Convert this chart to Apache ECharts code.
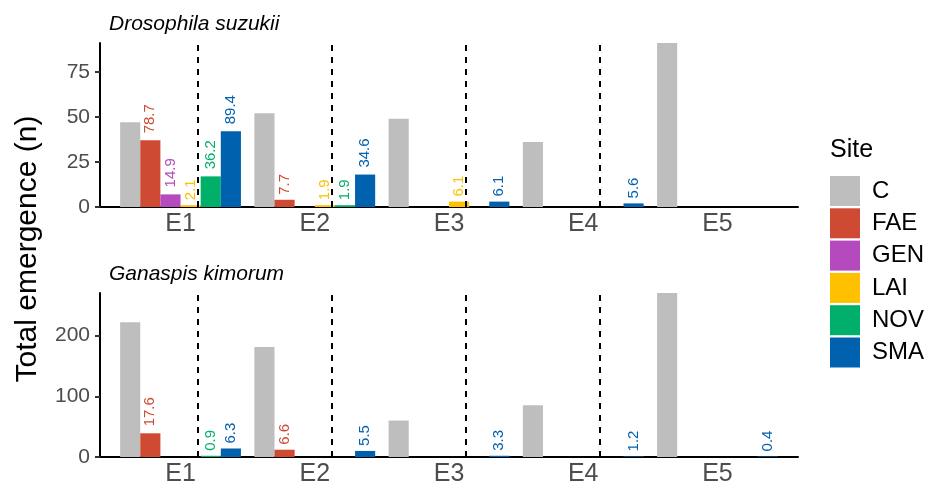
<!DOCTYPE html>
<html>
<head>
<meta charset="utf-8">
<script src="https://cdn.jsdelivr.net/npm/echarts@6/dist/echarts.min.js"></script>
<style>
  html, body { margin: 0; padding: 0; background: #fff; }
  #chart { width: 934px; height: 491px; }
</style>
</head>
<body>
<div id="chart"></div>
<script>
// Emergence sites and experiments
const categories = ['E1', 'E2', 'E3', 'E4', 'E5'];
const sites = ['C', 'FAE', 'GEN', 'LAI', 'NOV', 'SMA'];
const panelTitles = ['Drosophila suzukii', 'Ganaspis kimorum'];

// Drosophila suzukii: total emergence per site
const suzukiiC   = [47, 52, 49, 36, 91];
const suzukiiFAE = [37, 4, 0, 0, 0];
const suzukiiGEN = [7, 0, 0, 0, 0];
const suzukiiLAI = [1, 1, 3, 0, 0];
const suzukiiNOV = [17, 1, 0, 0, 0];
const suzukiiSMA = [42, 18, 3, 2, 0];

// Drosophila suzukii: percentage labels (relative to C)
const suzukiiPctFAE = [78.7, 7.7, null, null, null];
const suzukiiPctGEN = [14.9, null, null, null, null];
const suzukiiPctLAI = [2.1, 1.9, 6.1, null, null];
const suzukiiPctNOV = [36.2, 1.9, null, null, null];
const suzukiiPctSMA = [89.4, 34.6, 6.1, 5.6, null];

// Ganaspis kimorum: total emergence per site
const kimorumC   = [222, 181, 60, 85, 270];
const kimorumFAE = [39, 12, 0, 0, 0];
const kimorumGEN = [0, 0, 0, 0, 0];
const kimorumLAI = [0, 0, 0, 0, 0];
const kimorumNOV = [2, 0, 0, 0, 0];
const kimorumSMA = [14, 10, 2, 1, 1];

// Ganaspis kimorum: percentage labels (relative to C)
const kimorumPctFAE = [17.6, 6.6, null, null, null];
const kimorumPctNOV = [0.9, null, null, null, null];
const kimorumPctSMA = [6.3, 5.5, 3.3, 1.2, 0.4];

// y-axis tick labels
const suzukiiTicks = [0, 25, 50, 75];
const kimorumTicks = [0, 100, 200];

const none = [null, null, null, null, null];
const panels = [
  { values: [suzukiiC, suzukiiFAE, suzukiiGEN, suzukiiLAI, suzukiiNOV, suzukiiSMA],
    labels: [none, suzukiiPctFAE, suzukiiPctGEN, suzukiiPctLAI, suzukiiPctNOV, suzukiiPctSMA],
    ticks: suzukiiTicks },
  { values: [kimorumC, kimorumFAE, kimorumGEN, kimorumLAI, kimorumNOV, kimorumSMA],
    labels: [none, kimorumPctFAE, none, none, kimorumPctNOV, kimorumPctSMA],
    ticks: kimorumTicks }
];

const siteColors = ['#BEBEBE', '#CF4A33', '#B44ABD', '#FFC000', '#00B06A', '#0061AF'];
const FONT = "'Liberation Sans', Arial, Helvetica, sans-serif";

// Dashed separators sit halfway between neighbouring experiments
const separators = categories.slice(1).map((_, i) => i + 1.5);

const grids = [
  { left: 100, right: 136, top: 43, height: 164 },
  { left: 100, right: 136, top: 293, height: 164 }
];

const xAxes = grids.map((_, p) => ({
  type: 'value', gridIndex: p, min: 0.4, max: categories.length + 0.6,
  axisLine: { show: true, onZero: false, lineStyle: { color: '#000', width: 2 } },
  axisTick: { show: false },
  splitLine: { show: false },
  axisLabel: {
    customValues: categories.map((_, i) => i + 1),
    formatter: v => categories[Math.round(v) - 1] || '',
    fontSize: 25, color: '#4d4d4d', fontFamily: FONT, margin: 5
  }
}));

const yAxes = panels.map((pn, p) => ({
  type: 'value', gridIndex: p, min: 0, max: 'dataMax',
  axisLine: { show: true, onZero: false, lineStyle: { color: '#000', width: 2 } },
  axisTick: { show: true, length: 5, customValues: pn.ticks, lineStyle: { color: '#333', width: 2 } },
  splitLine: { show: false },
  axisLabel: {
    customValues: pn.ticks,
    fontSize: 21, color: '#4d4d4d', fontFamily: FONT, margin: 10
  }
}));

const series = [];
panels.forEach((pn, p) => {
  sites.forEach((site, s) => {
    const item = {
      type: 'bar', name: site, xAxisIndex: p, yAxisIndex: p,
      barWidth: '15%', barGap: '0%',
      itemStyle: { color: siteColors[s] },
      data: pn.values[s].map((v, i) => {
        const pct = pn.labels[s][i];
        const d = { value: [i + 1, v] };
        if (pct != null) {
          const text = pct.toFixed(1);
          d.label = {
            show: true, position: 'top', rotate: 90, align: 'left', verticalAlign: 'middle',
            distance: Math.round(text.length * 1.8),
            formatter: text, color: siteColors[s], fontSize: 15, fontFamily: FONT
          };
        }
        return d;
      })
    };
    if (s === 0) {
      item.markLine = {
        silent: true, symbol: 'none', label: { show: false },
        lineStyle: { type: [6, 6], color: '#000', width: 2 },
        data: separators.map(x => ({ xAxis: x }))
      };
    }
    series.push(item);
  });
});

const chart = echarts.init(document.getElementById('chart'), null, { renderer: 'canvas' });
chart.setOption({
  animation: false,
  backgroundColor: '#fff',
  title: [
    { text: panelTitles[0], left: 109, top: 14, padding: 0,
      textStyle: { fontSize: 21, fontStyle: 'italic', fontWeight: 'normal', color: '#000', fontFamily: FONT } },
    { text: panelTitles[1], left: 109, top: 264, padding: 0,
      textStyle: { fontSize: 21, fontStyle: 'italic', fontWeight: 'normal', color: '#000', fontFamily: FONT } },
    { text: 'Site', left: 830, top: 138, padding: 0,
      textStyle: { fontSize: 25, fontWeight: 'normal', color: '#000', fontFamily: FONT } }
  ],
  legend: {
    data: sites, orient: 'vertical', left: 830, top: 176, padding: 0,
    itemWidth: 30, itemHeight: 30, itemGap: 2.3, icon: 'rect', selectedMode: false,
    textStyle: { fontSize: 24, color: '#000', fontFamily: FONT, padding: [0, 0, 0, 7] }
  },
  graphic: [
    { type: 'text', x: 28, y: 249, rotation: Math.PI / 2,
      style: { text: 'Total emergence (n)', font: '30px ' + FONT, fill: '#000',
               textAlign: 'center', textVerticalAlign: 'middle' } }
  ],
  grid: grids,
  xAxis: xAxes,
  yAxis: yAxes,
  series: series
});
</script>
</body>
</html>
